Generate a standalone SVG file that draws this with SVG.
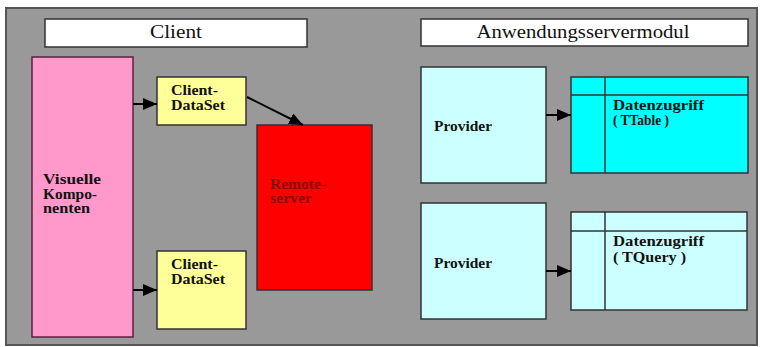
<svg xmlns="http://www.w3.org/2000/svg" width="762" height="347" viewBox="0 0 762 347">
<defs>
<marker id="ah" viewBox="0 0 14 12" refX="14" refY="6" markerWidth="14" markerHeight="12" markerUnits="userSpaceOnUse" orient="auto">
<path d="M0,0 L14,6 L0,12 z" fill="#000"/>
</marker>
</defs>
<style>
.box{stroke:#333;stroke-width:1.5}
.hdr{fill:#fff;stroke:#333;stroke-width:1.5}
.t{font-family:"Liberation Serif","Times New Roman",serif;font-size:14px;font-weight:bold;fill:#111}
.h{font-family:"Liberation Serif","Times New Roman",serif;font-size:18px;fill:#111}
.conn{stroke:#000;stroke-width:2;fill:none;marker-end:url(#ah)}
</style>
<rect width="762" height="347" fill="#fff"/>
<rect x="6" y="8" width="751" height="337" fill="#999" stroke="#555" stroke-width="2"/>
<g id="hdr-client">
<rect class="hdr" x="45" y="19" width="262" height="28"/>
<text class="h" x="176" y="38" text-anchor="middle" textLength="52" lengthAdjust="spacingAndGlyphs">Client</text>
</g>
<g id="hdr-server">
<rect class="hdr" x="421" y="19" width="327" height="27"/>
<text class="h" x="583" y="38" text-anchor="middle" textLength="213" lengthAdjust="spacingAndGlyphs">Anwendungsservermodul</text>
</g>
<g id="visuelle">
<rect x="32" y="57" width="101" height="280" fill="#ff99cc" stroke="#5a2040" stroke-width="1.5"/>
<text class="t" x="43" y="184" textLength="58" lengthAdjust="spacingAndGlyphs">Visuelle</text>
<text class="t" x="43" y="199" textLength="54" lengthAdjust="spacingAndGlyphs">Kompo-</text>
<text class="t" x="43" y="213" textLength="47" lengthAdjust="spacingAndGlyphs">nenten</text>
</g>
<g id="cds1">
<rect class="box" x="157" y="77" width="89" height="48" fill="#ffff99"/>
<text class="t" x="171" y="95" textLength="47" lengthAdjust="spacingAndGlyphs">Client-</text>
<text class="t" x="171" y="110" textLength="54" lengthAdjust="spacingAndGlyphs">DataSet</text>
</g>
<g id="cds2">
<rect class="box" x="157" y="251" width="89" height="78" fill="#ffff99"/>
<text class="t" x="171" y="269" textLength="47" lengthAdjust="spacingAndGlyphs">Client-</text>
<text class="t" x="171" y="284" textLength="54" lengthAdjust="spacingAndGlyphs">DataSet</text>
</g>
<g id="remote">
<rect class="box" x="257" y="125" width="115" height="165" fill="#ff0000"/>
<text class="t" x="270" y="189" style="fill:#8b0000" textLength="56" lengthAdjust="spacingAndGlyphs">Remote-</text>
<text class="t" x="270" y="203" style="fill:#8b0000" textLength="42" lengthAdjust="spacingAndGlyphs">server</text>
</g>
<g id="provider1">
<rect class="box" x="421" y="67" width="125" height="116" fill="#ccffff"/>
<text class="t" x="434" y="131" textLength="58" lengthAdjust="spacingAndGlyphs">Provider</text>
</g>
<g id="table1">
<rect class="box" x="571" y="77" width="177" height="96" fill="#00ffff"/>
<line class="box" x1="571" y1="95" x2="748" y2="95"/>
<line class="box" x1="605" y1="77" x2="605" y2="173"/>
<text class="t" x="613" y="110" textLength="91" lengthAdjust="spacingAndGlyphs">Datenzugriff</text>
<text class="t" x="613" y="125" textLength="56" lengthAdjust="spacingAndGlyphs">( TTable )</text>
</g>
<g id="provider2">
<rect class="box" x="421" y="203" width="125" height="116" fill="#ccffff"/>
<text class="t" x="434" y="268" textLength="58" lengthAdjust="spacingAndGlyphs">Provider</text>
</g>
<g id="table2">
<rect class="box" x="571" y="212" width="176" height="98" fill="#ccffff"/>
<line class="box" x1="571" y1="231" x2="747" y2="231"/>
<line class="box" x1="605" y1="212" x2="605" y2="310"/>
<text class="t" x="613" y="246" textLength="91" lengthAdjust="spacingAndGlyphs">Datenzugriff</text>
<text class="t" x="613" y="262" textLength="73" lengthAdjust="spacingAndGlyphs">( TQuery )</text>
</g>
<g id="connectors">
<line class="conn" x1="133" y1="104" x2="157" y2="104"/>
<line class="conn" x1="133" y1="290" x2="157" y2="290"/>
<line class="conn" x1="247" y1="97" x2="303" y2="125"/>
<line class="conn" x1="546" y1="115" x2="571" y2="115"/>
<line class="conn" x1="546" y1="271" x2="571" y2="271"/>
</g>
</svg>
